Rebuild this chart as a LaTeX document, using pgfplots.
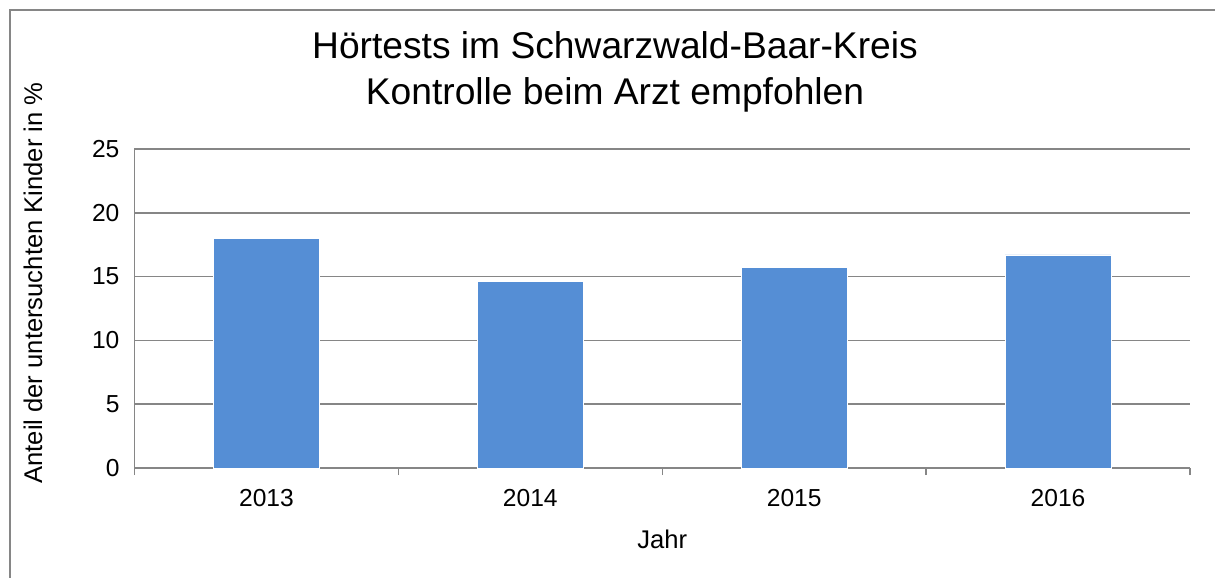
\documentclass[border=0pt]{standalone}
\usepackage{pgfplots}
\pgfplotsset{compat=1.18}
\usepackage{fontspec}
\setmainfont{Liberation Sans}
\definecolor{barblue}{HTML}{558ED5}
\definecolor{gridgray}{HTML}{868686}
\begin{document}
\begin{tikzpicture}
\begin{axis}[
  at={(0,0)}, anchor=south west,
  scale only axis,
  width=527.75pt, height=159.5pt,
  xmin=-0.5, xmax=3.5,
  ymin=0, ymax=25,
  ytick={0,5,10,15,20,25},
  xtick={0,1,2,3},
  xticklabels={2013,2014,2015,2016},
  minor xtick={-0.5,0.5,1.5,2.5,3.5},
  major tick length=0pt,
  minor tick length=3.5pt,
  axis x line=bottom, axis y line=left,
  axis line style={draw=gridgray, line width=0.75pt, -},
  ymajorgrids, major grid style={draw=gridgray, line width=0.75pt},
  every tick/.style={draw=gridgray, line width=0.75pt},
  tick align=outside,
  yticklabel style={font=\fontsize{12.3}{14}\selectfont, xshift=-4pt},
  xticklabel style={font=\fontsize{12.3}{14}\selectfont, yshift=-7pt},
  /pgf/number format/assume math mode=true,
  xlabel={Jahr}, ylabel={Anteil der untersuchten Kinder in \%},
  xlabel style={font=\fontsize{12.8}{14}\selectfont, at={(axis description cs:0.5,-0.225)}, anchor=center},
  ylabel style={font=\fontsize{12.8}{14}\selectfont, at={(axis description cs:-0.0962,0.58)}, anchor=center, rotate=0},
  bar width=53pt,
  clip=false,
]
\addplot[ybar, fill=barblue, draw=white, line width=0.3pt] coordinates {(0,18.0) (1,14.6) (2,15.7) (3,16.7)};
\end{axis}
\node[anchor=north, align=center, font=\fontsize{18.6}{23}\selectfont, inner sep=0pt] at (240.25pt,218.5pt) {Hörtests im Schwarzwald-Baar-Kreis\\Kontrolle beim Arzt empfohlen};
\draw[gridgray, line width=0.75pt] (-62.25pt,-60pt) -- (-62.25pt,229pt) -- (545pt,229pt);
\pgfresetboundingbox
\path[use as bounding box] (-67.25pt,-55pt) rectangle (540.25pt,234pt);
\end{tikzpicture}
\end{document}
